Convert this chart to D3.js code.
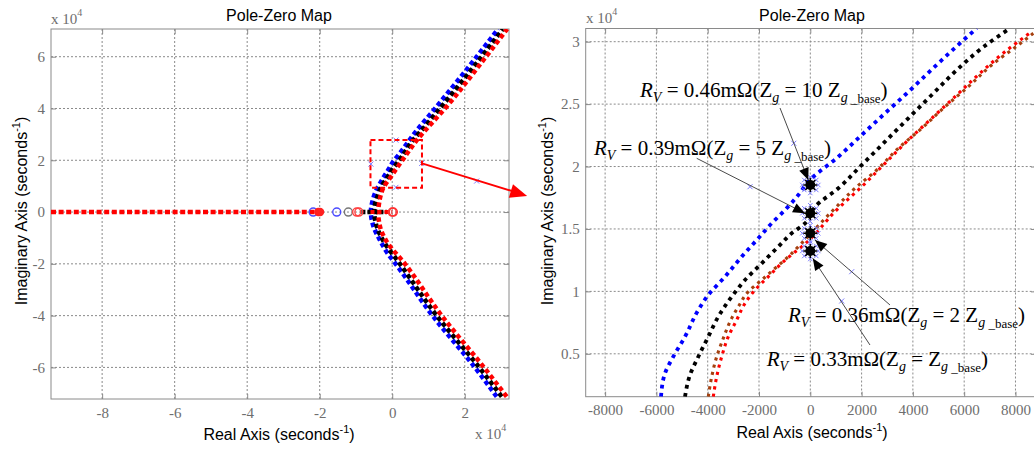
<!DOCTYPE html>
<html>
<head>
<meta charset="utf-8">
<script src="https://cdn.jsdelivr.net/npm/d3@7"></script>
<style>
  body { margin: 0; background: #fff; }
  svg { display: block; }
  .axis path { display: none; }
  .axis line { stroke: #8a8a8a; }
  .axis text, .exp { font-family: "Liberation Serif", "Times New Roman", serif; font-size: 15px; fill: #6e6e6e; }
  .grid line { stroke: #8a8a8a; stroke-dasharray: 2,2; }
  .frame { fill: none; stroke: #8a8a8a; }
  .title, .axis-title { font-family: "Liberation Sans", Arial, sans-serif; font-size: 16px; fill: #000; }
  .note { font-family: "Liberation Serif", "Times New Roman", serif; font-size: 21px; fill: #000; }
</style>
</head>
<body>
<svg id="chart" width="1034" height="451"></svg>
<script>
// ---- data (seconds^-1) ----
var leftXTicks = [-80000, -60000, -40000, -20000, 0, 20000];
var leftYTicks = [-60000, -40000, -20000, 0, 20000, 40000, 60000];
var rightXTicks = [-8000, -6000, -4000, -2000, 0, 2000, 4000, 6000, 8000];
var rightYTicks = [5000, 10000, 15000, 20000, 25000, 30000];

// left map: lower branches (bottom up) and upper branches (from real axis up)
var leftBlueLower = [[28800,-71300],[22800,-60000],[11100,-40000],[930,-20000],[-1000,-16500],[-3300,-11100],[-5300,-5000]];
var leftBlueUpper = [[-5900,0],[-5340,4770],[-4370,8510],[-3330,11180],[-2030,14250],[-990,16520],[-80,18790],[2000,22530],[3690,25730],[5900,30000],[11800,40000],[23300,60000],[29200,70700]];
var leftBlackLower = [[30200,-71300],[24000,-60000],[12250,-40000],[2120,-20000],[-2500,-11000],[-4400,-5000]];
var leftBlackUpper = [[-4950,0],[-4690,3300],[-3980,6370],[-3070,9570],[-1900,12250],[-720,14650],[180,16780],[2000,20120],[3820,23860],[5640,27600],[7790,31070],[13160,40000],[24660,60000],[30500,70700]];
var leftRedLower = [[31560,-71300],[25300,-60000],[13630,-40000],[3500,-20000],[-1600,-11200],[-3300,-6000]];
var leftRedUpper = [[-3850,0],[-3650,3170],[-3200,6370],[-2550,9050],[-1640,11180],[-660,13050],[1090,16660],[2910,20260],[4730,23860],[6680,27600],[8630,30800],[14540,40000],[25850,60000],[31700,70700]];
var realAxisRed = [[-94100,0],[-21000,0]];
var realAxisBlack = [[-8500,0],[-1500,0]];
var realAxisRedNear = [[-6000,0],[0,0]];
var leftZeros = [[-21800,'#4a4aff'],[-15300,'#4a4aff'],[-12100,'#777'],[-9800,'#ff4040'],[-9200,'#ff4040'],[0,'#ff3030'],[300,'#ff3030']];
var leftZeroFilled = [[-20400,0],[-19900,0]];
var leftCrosses = [[1020,27800],[-5880,18530],[1020,9540],[8110,18800],[23280,11970]];
var zoomBox = [-6000, 8200, 9400, 27800];
var zoomArrow = [[8200,18800],[37200,6200]];

// right map (zoom)
var rightBlue = [[-5821,1564],[-5665,3439],[-5342,4768],[-4885,6370],[-4367,8509],[-3977,9711],[-3326,11176],[-2675,12778],[-2027,14252],[-1505,15454],[-986,16519],[-468,17721],[-78,18786],[1092,20788],[2004,22527],[2913,24265],[3692,25731],[4991,28270],[5903,30000],[6488,31073]];
var rightBlack = [[-4885,1564],[-4691,3303],[-4367,4768],[-3977,6370],[-3587,7972],[-3065,9574],[-2546,10912],[-1895,12250],[-1248,13579],[-725,14653],[-207,15454],[183,16783],[1092,18257],[2004,20124],[2913,21990],[3821,23864],[4733,25731],[5642,27597],[6683,29471],[7786,31073]];
var rightBrown = [[-3977,1564],[-3844,3166],[-3650,4768],[-3392,6242],[-3131,7572],[-2807,8773],[-2417,9975],[-1895,10912],[-1376,11849],[-858,12778],[-530,13451],[897,16519],[1743,18257],[2589,19723],[3431,21461],[4344,23063],[5252,24793],[6160,26396],[7073,28134],[8110,29736],[8695,30673]];
var rightRed = [[-3782,1564],[-3650,3166],[-3455,4768],[-3197,6370],[-2870,7708],[-2546,9046],[-2156,10112],[-1638,11176],[-1115,12250],[-663,13051],[-335,13579],[1092,16655],[2004,18385],[2913,20260],[3821,22126],[4733,23864],[5642,25594],[6683,27597],[7591,29199],[8632,30801]];
var blobY = [18522, 16255, 14653, 13235];
var rightCrosses = [[-643,21862],[-2351,18386],[1614,11577],[1224,9230]];

// annotations
var noteRv = ['0.46', '0.39', '0.36', '0.33'];
var noteZg = ['10 ', '5 ', '2 ', ''];
var notePos = [[-6640,25570],[-8434,20925],[-869,7572],[-1700,4048]];
var noteArrowFrom = [[-1181,24690],[-4429,20660],[3107,8910],[2327,5706]];
var noteArrowTip = [[-78,18922],[-207,16255],[183,14116],[94,12650]];

var svg = d3.select('#chart');
var defs = svg.append('defs');
var serif = '"Liberation Serif", "Times New Roman", serif';

function makePanel(cfg) {
  var p = {};
  p.x = d3.scaleLinear().domain(cfg.xDomain).range([cfg.left, cfg.right]);
  p.y = d3.scaleLinear().domain(cfg.yDomain).range([cfg.bottom, cfg.top]);
  p.g = svg.append('g');

  defs.append('clipPath').attr('id', cfg.id)
    .append('rect')
    .attr('x', cfg.left).attr('y', cfg.top)
    .attr('width', cfg.right - cfg.left).attr('height', cfg.bottom - cfg.top);

  var grid = p.g.append('g').attr('class', 'grid');
  grid.selectAll('line.gx').data(cfg.xTicks).enter().append('line')
    .attr('class', 'gx')
    .attr('x1', d => p.x(d)).attr('x2', d => p.x(d))
    .attr('y1', cfg.top).attr('y2', cfg.bottom);
  grid.selectAll('line.gy').data(cfg.yTicks).enter().append('line')
    .attr('class', 'gy')
    .attr('y1', d => p.y(d)).attr('y2', d => p.y(d))
    .attr('x1', cfg.left).attr('x2', cfg.right);

  p.g.append('g').attr('class', 'axis')
    .attr('transform', `translate(0,${cfg.bottom})`)
    .call(d3.axisBottom(p.x).tickValues(cfg.xTicks).tickFormat(cfg.xFormat).tickSize(-5).tickPadding(8));
  p.g.append('g').attr('class', 'axis')
    .attr('transform', `translate(${cfg.left},0)`)
    .call(d3.axisLeft(p.y).tickValues(cfg.yTicks).tickFormat(cfg.yFormat).tickSize(-5).tickPadding(6));
  p.g.append('g').attr('class', 'axis')
    .attr('transform', `translate(0,${cfg.top})`)
    .call(d3.axisTop(p.x).tickValues(cfg.xTicks).tickFormat('').tickSize(-5));
  p.g.append('g').attr('class', 'axis')
    .attr('transform', `translate(${cfg.right},0)`)
    .call(d3.axisRight(p.y).tickValues(cfg.yTicks).tickFormat('').tickSize(-5));
  p.g.selectAll('.axis').attr('font-family', serif).attr('font-size', 15);
  p.g.selectAll('.axis text').style('font-family', serif).style('font-size', '15px').attr('fill', '#6e6e6e');

  p.g.append('rect').attr('class', 'frame')
    .attr('x', cfg.left).attr('y', cfg.top)
    .attr('width', cfg.right - cfg.left).attr('height', cfg.bottom - cfg.top);

  p.plot = p.g.append('g').attr('clip-path', `url(#${cfg.id})`);

  svg.append('text').attr('class', 'title')
    .attr('x', cfg.titleX).attr('y', 21).attr('text-anchor', 'middle').text('Pole-Zero Map');
  var xl = svg.append('text').attr('class', 'axis-title')
    .attr('x', cfg.titleX).attr('y', cfg.xLabelY).attr('text-anchor', 'middle');
  addSecondsLabel(xl, 'Real Axis (seconds');
  var yl = svg.append('text').attr('class', 'axis-title')
    .attr('transform', `translate(${cfg.yLabelX},211) rotate(-90)`).attr('text-anchor', 'middle');
  addSecondsLabel(yl, 'Imaginary Axis (seconds');
  return p;
}

function addSecondsLabel(t, s) {
  t.append('tspan').text(s);
  t.append('tspan').attr('font-size', 11).attr('dy', -7).text('-1');
  t.append('tspan').attr('dy', 7).text(')');
}

function addExponent(x, y) {
  var t = svg.append('text').attr('class', 'exp').attr('x', x).attr('y', y);
  t.append('tspan').text('x 10');
  t.append('tspan').attr('font-size', 10).attr('dy', -8).text('4');
}

function dotted(p, data, color, w, dash) {
  var line = d3.line()
    .x(d => p.x(d[0]))
    .y(d => p.y(d[1]))
    .curve(d3.curveMonotoneY);
  p.plot.append('path')
    .datum(data)
    .attr('d', line)
    .attr('fill', 'none')
    .attr('stroke', color)
    .attr('stroke-width', w)
    .attr('stroke-dasharray', dash);
}

function crosses(p, data) {
  p.plot.append('g').selectAll('path').data(data).enter().append('path')
    .attr('d', d => {
      var x = p.x(d[0]), y = p.y(d[1]), s = 2.5;
      return `M${x-s},${y-s}L${x+s},${y+s}M${x-s},${y+s}L${x+s},${y-s}`;
    })
    .attr('stroke', '#7b7bff').attr('stroke-width', 1).attr('fill', 'none');
}

function arrowHead(g, x0, y0, x1, y1, len, half, color) {
  var a = Math.atan2(y1 - y0, x1 - x0),
      bx = x1 - len * Math.cos(a), by = y1 - len * Math.sin(a),
      nx = -Math.sin(a) * half, ny = Math.cos(a) * half;
  g.append('path')
    .attr('d', `M${x1},${y1}L${bx+nx},${by+ny}L${bx-nx},${by-ny}Z`)
    .attr('fill', color);
}

// ---------------- left panel ----------------
var L = makePanel({
  id: 'clip-left', left: 51, right: 509, top: 29, bottom: 399,
  xDomain: [-94100, 32200], yDomain: [-72200, 70700],
  xTicks: leftXTicks, yTicks: leftYTicks,
  xFormat: d => String(d / 1e4), yFormat: d => String(d / 1e4),
  titleX: 279, xLabelY: 440, yLabelX: 27
});
addExponent(51, 24);
addExponent(475, 439);

dotted(L, realAxisRed, '#ff0000', 4.5, '5,2.6');
dotted(L, leftBlueLower.concat(leftBlueUpper), '#0000ff', 4.5, '4.5,3');
dotted(L, leftBlackLower.concat(leftBlackUpper), '#000000', 4.5, '4.5,3');
dotted(L, leftRedLower.concat(leftRedUpper), '#ff0000', 4.5, '4.5,3');
dotted(L, realAxisBlack, '#000000', 4.5, '4,2');
dotted(L, realAxisRedNear, '#ff0000', 4, '4,3');

L.plot.append('g').selectAll('circle.zero').data(leftZeros).enter().append('circle')
  .attr('cx', d => L.x(d[0])).attr('cy', L.y(0)).attr('r', 4)
  .attr('fill', 'none').attr('stroke', d => d[1]).attr('stroke-width', 1.4);
L.plot.append('g').selectAll('circle.zf').data(leftZeroFilled).enter().append('circle')
  .attr('cx', d => L.x(d[0])).attr('cy', d => L.y(d[1])).attr('r', 4.2)
  .attr('fill', '#ff2020');
crosses(L, leftCrosses);

L.g.append('rect')
  .attr('x', L.x(zoomBox[0])).attr('y', L.y(zoomBox[3]))
  .attr('width', L.x(zoomBox[1]) - L.x(zoomBox[0]))
  .attr('height', L.y(zoomBox[2]) - L.y(zoomBox[3]))
  .attr('fill', 'none').attr('stroke', '#ff0000').attr('stroke-width', 2)
  .attr('stroke-dasharray', '5,3');

var ax0 = L.x(zoomArrow[0][0]), ay0 = L.y(zoomArrow[0][1]),
    ax1 = L.x(zoomArrow[1][0]), ay1 = L.y(zoomArrow[1][1]);
var arrG = svg.append('g');
arrG.append('line').attr('x1', ax0).attr('y1', ay0).attr('x2', ax1 - 12).attr('y2', ay1 - 4)
  .attr('stroke', '#ff0000').attr('stroke-width', 2);
arrowHead(arrG, ax0, ay0, ax1, ay1, 17, 7, '#ff0000');

// ---------------- right panel ----------------
var R = makePanel({
  id: 'clip-right', left: 585.7, right: 1036, top: 28.5, bottom: 396.7,
  xDomain: [-8757, 8800], yDomain: [1564, 31057],
  xTicks: rightXTicks, yTicks: rightYTicks,
  xFormat: d => String(d), yFormat: d => String(d / 1e4),
  titleX: 812, xLabelY: 438, yLabelX: 553
});
addExponent(586, 23);

dotted(R, rightBlue, '#0000ff', 3.8, '3.8,4.4');
dotted(R, rightBlack, '#000000', 3.8, '3.8,4.4');
dotted(R, rightRed, '#ff0000', 3.1, '3.1,4.3');
dotted(R, rightBrown, '#a5400f', 3.1, '3.1,4.3');
crosses(R, rightCrosses);

var blobs = R.plot.append('g').selectAll('g.blob').data(blobY).enter().append('g')
  .attr('transform', d => `translate(${R.x(0)},${R.y(d)})`);
[[-6,-5],[6,-5],[-6,5],[6,5],[0,-8],[0,8],[-8,0],[8,0]].forEach(o => {
  blobs.append('path')
    .attr('d', `M${o[0]-2.2},${o[1]-2.2}L${o[0]+2.2},${o[1]+2.2}M${o[0]-2.2},${o[1]+2.2}L${o[0]+2.2},${o[1]-2.2}`)
    .attr('stroke', '#7b7bff').attr('stroke-width', 1);
});
blobs.append('circle').attr('r', 5).attr('fill', '#000');
blobs.append('path')
  .attr('d', 'M-7,0L7,0M0,-7L0,7M-5,-5L5,5M-5,5L5,-5')
  .attr('stroke', '#000').attr('stroke-width', 1.6);

// annotation arrows
var noteG = svg.append('g');
noteArrowFrom.forEach((f, i) => {
  var x0 = R.x(f[0]), y0 = R.y(f[1]),
      x1 = R.x(noteArrowTip[i][0]), y1 = R.y(noteArrowTip[i][1]);
  noteG.append('line').attr('x1', x0).attr('y1', y0).attr('x2', x1).attr('y2', y1)
    .attr('stroke', '#4a4a4a').attr('stroke-width', 1);
  arrowHead(noteG, x0, y0, x1, y1, 12, 5, '#000');
});

// annotation texts
notePos.forEach((pos, i) => {
  var t = noteG.append('text').attr('class', 'note')
    .attr('x', R.x(pos[0])).attr('y', R.y(pos[1]));
  t.append('tspan').attr('font-style', 'italic').text('R');
  t.append('tspan').attr('font-style', 'italic').attr('font-size', 14).attr('dy', 5).text('V');
  t.append('tspan').attr('dy', -5).text(' = ' + noteRv[i] + 'm\u03a9(Z');
  t.append('tspan').attr('font-style', 'italic').attr('font-size', 14).attr('dy', 5).text('g');
  t.append('tspan').attr('dy', -5).text(' = ' + noteZg[i] + 'Z');
  t.append('tspan').attr('font-style', 'italic').attr('font-size', 14).attr('dy', 5).text('g');
  t.append('tspan').attr('font-size', 13).attr('dy', 1).text(' _base');
  t.append('tspan').attr('dy', -6).text(')');
});
</script>
</body>
</html>
